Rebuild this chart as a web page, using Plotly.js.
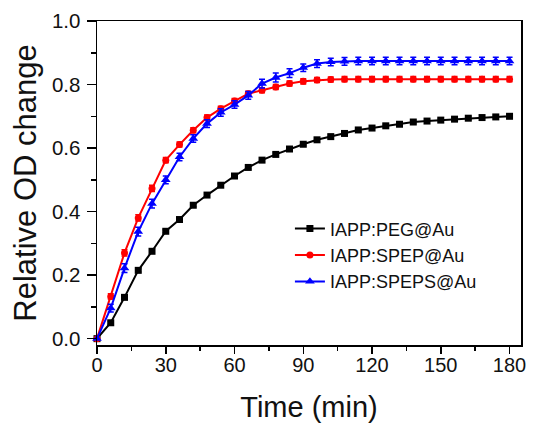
<!DOCTYPE html>
<html>
<head>
<meta charset="utf-8">
<script src="https://cdn.plot.ly/plotly-3.0.1.min.js"></script>
<style>html,body{margin:0;padding:0;background:#fff;}#chart{width:534px;height:428px;}</style>
</head>
<body>
<div id="chart"></div>
<script>
const time = [0,6,12,18,24,30,36,42,48,54,60,66,72,78,84,90,96,102,108,114,120,126,132,138,144,150,156,162,168,174,180];
const pegAu = [0,0.05,0.13,0.215,0.275,0.338,0.375,0.42,0.452,0.483,0.512,0.539,0.562,0.58,0.597,0.612,0.626,0.636,0.646,0.657,0.663,0.67,0.675,0.682,0.685,0.688,0.691,0.694,0.696,0.698,0.70];
const spepAu = [0,0.133,0.27,0.38,0.473,0.562,0.611,0.656,0.696,0.724,0.748,0.771,0.782,0.792,0.803,0.81,0.814,0.816,0.817,0.817,0.817,0.817,0.817,0.817,0.817,0.817,0.817,0.817,0.817,0.817,0.817];
const spepsAu = [0,0.096,0.222,0.337,0.425,0.5,0.572,0.63,0.677,0.712,0.737,0.766,0.803,0.822,0.836,0.853,0.866,0.871,0.873,0.874,0.874,0.874,0.874,0.874,0.874,0.874,0.874,0.874,0.874,0.874,0.874];
const pegErr = [0,0.005,0.005,0.005,0.005,0.005,0.005,0.005,0.005,0.005,0.005,0.005,0.005,0.005,0.005,0.005,0.005,0.005,0.005,0.005,0.005,0.005,0.005,0.005,0.005,0.005,0.005,0.005,0.005,0.005,0.005];
const spepErr = [0,0.008,0.01,0.01,0.01,0.008,0.008,0.008,0.008,0.008,0.008,0.008,0.008,0.008,0.008,0.008,0.008,0.008,0.008,0.008,0.008,0.008,0.008,0.008,0.008,0.008,0.008,0.008,0.008,0.008,0.008];
const spepsErr = [0,0.012,0.014,0.014,0.014,0.012,0.012,0.012,0.012,0.012,0.012,0.012,0.014,0.014,0.014,0.012,0.012,0.012,0.012,0.012,0.012,0.012,0.012,0.012,0.012,0.012,0.012,0.012,0.012,0.012,0.012];
const names = ['IAPP:PEG@Au','IAPP:SPEP@Au','IAPP:SPEPS@Au'];

const font = 'Liberation Sans, Arial, sans-serif';
function tr(y, err, name, color, symbol, size) {
  return {
    x: time, y: y, name: name, type: 'scatter', mode: 'lines+markers',
    line: {color: color, width: 2},
    marker: {color: color, symbol: symbol, size: size},
    error_y: {type: 'data', array: err, visible: true, color: color, thickness: 1.5, width: 3},
    cliponaxis: false
  };
}
const data = [
  tr(pegAu, pegErr, names[0], '#000000', 'square', 7),
  tr(spepAu, spepErr, names[1], '#ff0000', 'circle', 7),
  tr(spepsAu, spepsErr, names[2], '#0000ff', 'triangle-up', 8.5)
];
const layout = {
  width: 534, height: 428,
  margin: {l: 97, r: 13, t: 20.5, b: 83},
  paper_bgcolor: '#fff', plot_bgcolor: '#fff',
  font: {family: font, color: '#111', size: 18},
  showlegend: true,
  legend: {x: 0.455, y: 0.4155, xanchor: 'left', yanchor: 'top', bgcolor: 'rgba(0,0,0,0)',
           font: {family: font, size: 18, color: '#111'}, tracegroupgap: 0},
  xaxis: {
    range: [0, 185], tickvals: [0,30,60,90,120,150,180], ticktext: ['0','30','60','90','120','150','180'],
    ticks: 'outside', ticklen: 7, tickwidth: 1.5, tickcolor: '#000', ticklabelstandoff: -6,
    minor: {dtick: 15, tick0: 0, ticks: 'outside', ticklen: 4, tickwidth: 1.5, tickcolor: '#000'},
    showline: true, linecolor: '#000', linewidth: 1.5, mirror: true, showgrid: false, zeroline: false,
    tickfont: {size: 20, family: font, color: '#111'},
    title: {text: 'Time (min)', font: {size: 29, family: font, color: '#111'}, standoff: 22}
  },
  yaxis: {
    range: [-0.02, 1.0], tickvals: [0,0.2,0.4,0.6,0.8,1.0], ticktext: ['0.0','0.2','0.4','0.6','0.8','1.0'],
    ticks: 'outside', ticklen: 9, tickwidth: 1.5, tickcolor: '#000', ticklabelstandoff: 2,
    minor: {dtick: 0.1, tick0: 0, ticks: 'outside', ticklen: 5, tickwidth: 1.5, tickcolor: '#000'},
    showline: true, linecolor: '#000', linewidth: 1.5, mirror: true, showgrid: false, zeroline: false,
    tickfont: {size: 20.5, family: font, color: '#111'},
    title: {text: 'Relative OD change', font: {size: 31, family: font, color: '#111'}, standoff: 6}
  }
};
Plotly.newPlot('chart', data, layout, {displayModeBar: false, staticPlot: true});
</script>
</body>
</html>
